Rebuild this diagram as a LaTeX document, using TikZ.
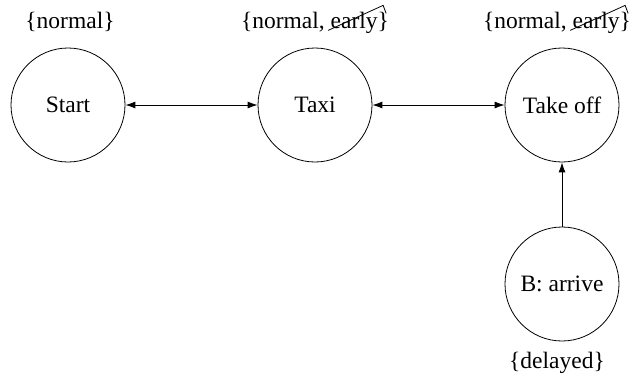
\documentclass[tikz,border=0pt]{standalone}
\usepackage{fontspec}
\setmainfont{Liberation Serif}
\usetikzlibrary{arrows.meta,calc}
\begin{document}
\begin{tikzpicture}[x=1pt,y=-1pt,
  state/.style={circle,draw,line width=0.8pt,minimum size=114pt,inner sep=0pt},
  lab/.style={anchor=base,inner sep=0pt},
  conn/.style={line width=0.9pt,{Latex[length=10pt,width=7pt]}-{Latex[length=10pt,width=7pt]}},
  connone/.style={line width=0.9pt,-{Latex[length=10pt,width=7pt]}},
  font=\rmfamily\fontsize{23.5}{28}\selectfont]
\useasboundingbox (0,0) rectangle (631,375);
\node[state] (start) at (68,105) {Start};
\node[state] (taxi) at (315,105) {Taxi};
\node[state] (takeoff) at (562,105) {Take off};
\node[state] (arrive) at (562,284) {B: arrive};
\node[lab] (l1) at (70,28) {\{normal\}};
\node[lab] (l2) at (315,28) {\{normal, early\}};
\node[lab] (l3) at (557,28) {\{normal, early\}};
\node[lab] (l4) at (557,368) {\{delayed\}};
\draw[line width=0.8pt] ($(l2.east)+(-61,8)$) -- ($(l2.east)+(-6,-17)$) -- ($(l2.east)+(-3,-9)$);
\draw[line width=0.8pt] ($(l3.east)+(-61,8)$) -- ($(l3.east)+(-6,-17)$) -- ($(l3.east)+(-3,-9)$);
\draw[conn] (start) -- (taxi);
\draw[conn] (taxi) -- (takeoff);
\draw[connone] (arrive) -- (takeoff);
\end{tikzpicture}
\end{document}
